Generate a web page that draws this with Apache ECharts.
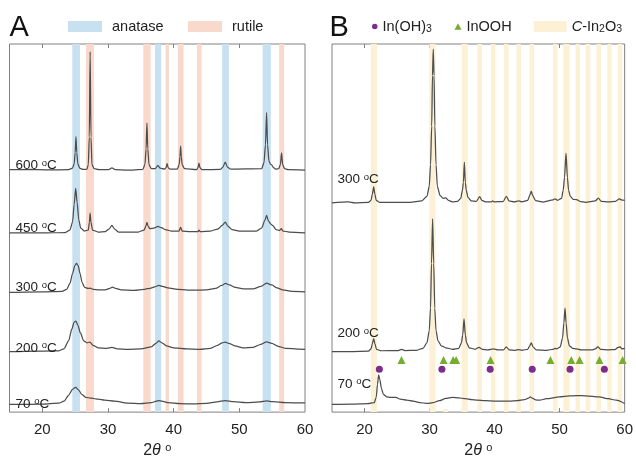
<!DOCTYPE html>
<html><head><meta charset="utf-8">
<script src="https://cdn.jsdelivr.net/npm/echarts@6/dist/echarts.min.js"></script>
<style>html,body{margin:0;padding:0;background:#fff}#c{width:636px;height:465px}</style>
</head><body><div id="c"></div>
<script>
// ---------- data (2θ in degrees, intensity in arbitrary stacked units) ----------
const tickValues = [20, 30, 40, 50];
const labelValues = [20, 30, 40, 50, 60];

const anataseBands = [[24.56, 25.73], [37.15, 38.1], [47.39, 48.41], [53.54, 54.8]];
const rutileBands = [[26.64, 27.86], [35.37, 36.49], [38.77, 39.28], [40.65, 41.51], [43.54, 44.25], [56.07, 56.83]];
const in2o3Bands = [[20.97, 21.9], [29.95, 30.92], [34.93, 35.87], [37.37, 38.05], [39.43, 40.1], [41.46, 42.15],
  [43.37, 44.05], [45.36, 46.05], [49.0, 49.66], [50.57, 51.52], [52.45, 53.14], [53.98, 54.7], [55.66, 56.37],
  [57.35, 58.0], [58.92, 59.63]];
const in2o3Stub = [[32.1, 32.85]];

const a600 = [[15,245],[18,245.2],[21,244.8],[24,245],[24.6,246.5],[24.85,251],[25.0,262],[25.12,278.3],[25.25,262],[25.4,251],[25.7,246.5],[26.2,245.2],[26.8,245.5],[27.0,250],[27.15,278],[27.28,364.3],[27.41,278],[27.56,250],[27.9,246],[28.6,245],[30.1,245],[30.6,246.8],[31.1,245],[33,244.6],[35.3,245.2],[35.62,250],[35.8,266],[35.93,292],[36.06,266],[36.24,250],[36.6,246],[37.2,246],[37.6,249.3],[37.95,246.5],[38.6,245.5],[38.85,247],[39.0,251],[39.15,247],[39.45,245.5],[40.55,245.5],[40.83,250],[40.96,258],[41.06,268.7],[41.16,258],[41.3,250],[41.65,246],[43.5,245],[43.7,247],[43.85,251.7],[44.0,247],[44.3,245],[47.1,245.2],[47.5,247.5],[47.85,252.7],[48.2,247.5],[48.7,245.5],[53.4,246],[53.75,252],[53.98,270],[54.15,302.7],[54.3,270],[54.5,254],[54.75,250.5],[54.9,250],[55.2,247],[55.6,245.5],[56.0,246],[56.25,250],[56.43,262],[56.6,250],[56.9,246],[57.4,245],[60,244.5]];
const a450 = [[15,181],[20,181],[23.5,181.5],[24.2,184],[24.6,192],[24.85,210],[25.08,226],[25.3,212],[25.55,194],[25.85,186],[26.4,183],[27.0,184],[27.17,192],[27.28,201],[27.4,192],[27.65,184],[28.5,182],[29.6,182.5],[30.15,185],[30.6,188.7],[31.0,185],[31.6,182],[34.6,182],[35.5,184],[35.78,188],[35.93,191.7],[36.08,188],[36.4,185.5],[37.0,186],[37.6,187.7],[38.1,186.5],[38.7,184.5],[39.6,183],[40.8,183],[41.06,186.7],[41.3,183],[42.5,182.5],[43.7,182.5],[43.85,183.8],[44.05,182.5],[45.6,183],[46.7,185],[47.45,189],[47.85,192],[48.25,188],[48.9,184.5],[50,183],[52.6,183],[53.4,186],[53.9,194],[54.15,198.7],[54.45,193],[54.8,190],[55.1,188.5],[55.6,184.5],[56.1,183.5],[56.4,185.3],[56.65,183],[57.6,182],[60,181]];
const a300 = [[15,121],[20,121.5],[23,122],[23.7,124],[24.2,130],[24.6,140],[24.95,148],[25.2,150.3],[25.45,148],[25.75,140],[26.05,131],[26.45,126],[26.95,125],[27.3,125.3],[27.75,124],[28.6,123.5],[29.6,123.5],[30.25,125],[30.7,126.3],[31.15,125],[32,123.5],[34,123],[35.5,124],[35.93,124.7],[36.4,125],[37.1,126.5],[37.7,128],[38.3,127],[39.1,125.5],[40.6,124],[43,123.2],[45,123.5],[46.4,125],[47.3,128],[47.9,130],[48.5,128.5],[49.4,126],[50.6,124.5],[52.1,124.5],[53.3,127],[54.15,130.3],[54.95,128.5],[55.75,125.5],[56.6,123.5],[58,122],[60,121.5]];
const a200 = [[15,61],[20,61.5],[22.5,62],[23.3,64],[24.0,72],[24.5,84],[24.85,91],[25.1,92],[25.4,88],[25.8,80],[26.3,72],[26.8,70],[27.25,70.7],[27.7,67.5],[28.5,65],[29.8,64.5],[30.6,65.3],[31.4,64],[33,63.5],[35,64],[36.6,66],[37.3,69.5],[37.75,72],[38.2,70],[38.9,67],[40,65],[42,64],[44,63.5],[45.6,64.5],[46.7,67.5],[47.4,70],[47.85,70.7],[48.4,69.5],[49.3,67],[50.6,65],[52.1,65.5],[53.3,68.5],[54.15,71],[54.95,69.5],[55.9,66.5],[57,64.5],[60,63.3]];
const a70 = [[15,7.7],[20,8],[22.5,9],[23.3,11],[24.0,17],[24.6,23],[25.08,25],[25.5,22.5],[26.0,18],[26.6,15],[27.5,14],[28.5,13],[29.5,12],[31,11],[33,9],[35,8.5],[36.6,9.5],[37.35,11],[37.75,11.7],[38.2,11],[39.1,9.5],[41,8.5],[43,8.3],[45,8.7],[46.6,10.3],[47.85,11.7],[49.1,10.5],[51,9.5],[53.1,10.3],[54.15,11.3],[55.1,10.5],[57,9.5],[60,9.3]];

const b300 = [[15,211.5],[17.5,212.5],[18.5,211.5],[20.6,212],[21.0,214],[21.2,220],[21.41,227.7],[21.6,220],[21.8,214],[22.3,212],[27,212],[28.8,213.5],[29.6,218],[29.95,228],[30.15,250],[30.33,289],[30.45,340],[30.57,366.7],[30.69,340],[30.82,289],[31.0,250],[31.2,228],[31.6,219],[32.1,216],[32.5,216.5],[32.9,214],[33.5,212.5],[34.3,213],[34.8,216],[35.05,224],[35.2,232],[35.35,252.7],[35.5,232],[35.65,224],[35.9,217],[36.4,213.5],[37.2,213],[37.7,217.7],[38.05,214],[38.6,212.5],[39.5,212.5],[39.7,213.5],[39.9,212.5],[41.3,212.8],[41.82,218],[42.2,213.5],[43.0,212.5],[43.75,213.5],[44.2,212.5],[45.1,214],[45.4,219],[45.64,223.3],[45.85,219],[46.3,213.8],[47.5,212.3],[49.0,214.5],[49.3,215.5],[49.7,214],[50.3,216],[50.55,224],[50.75,237],[50.98,261.7],[51.2,237],[51.38,224],[51.65,218],[52.1,215],[52.6,214.7],[53.2,212.8],[54,212],[55.5,213.5],[55.96,216.2],[56.4,213],[57.5,212.5],[58.6,213],[59.17,215.5],[59.5,214.5],[60,214]];
const b200 = [[15,61],[18,61.2],[20.6,61.5],[21.0,64],[21.2,69],[21.41,74.3],[21.6,69],[21.85,63.5],[22.5,62],[25.2,62.2],[25.7,63.5],[26.2,62.2],[28,62.5],[29.0,64.5],[29.6,70],[29.95,82],[30.15,105],[30.3,150],[30.47,195.3],[30.64,150],[30.8,105],[31.0,82],[31.3,72],[31.8,67],[32.5,65],[33.5,63.5],[34.5,64.5],[34.9,70],[35.1,78],[35.3,94.3],[35.5,78],[35.7,70],[36.1,65],[37.0,63.5],[37.6,65.5],[38.1,63.5],[39,62.8],[39.8,63.8],[40.5,62.8],[41.4,63],[41.8,66],[42.2,63],[43.2,62.5],[43.7,63.2],[44.2,62.5],[45.1,63.5],[45.4,67],[45.64,70],[45.9,66],[46.4,63],[48,62.5],[49.0,63.5],[49.3,64.3],[49.6,64],[50.1,66],[50.45,75],[50.65,90],[50.83,105],[51.0,90],[51.2,75],[51.5,67],[52.0,64.5],[52.6,63.8],[53.3,62.8],[55,62.8],[55.5,64],[55.9,66],[56.3,63.5],[57.5,63],[58.5,63.2],[59.0,65.5],[59.3,66],[59.6,64],[60,64.5]];
const b70 = [[15,7.7],[18,8],[20.5,8.5],[21.5,9.5],[21.8,15],[22.0,28],[22.17,37.7],[22.35,33],[22.6,24],[22.9,18],[23.4,15.5],[24.0,15],[24.8,15],[25.5,13],[26.5,12],[27.5,11],[28.5,9.7],[29.7,8.7],[30.5,9.5],[31.5,11.5],[32.5,13.8],[33.5,15],[34.5,14.5],[35.5,13.5],[36.5,12.5],[37.3,12],[38.5,11.5],[40,11.2],[42.3,11],[43.5,11.5],[44.6,12.5],[45.2,14],[45.5,15.3],[45.8,14],[46.3,12.3],[46.9,12],[48,13.5],[50,15.3],[51.5,16.3],[52.6,16.7],[54,16.5],[56.1,15.3],[57.5,13.5],[58.7,12],[60,8.7]];

const inOH3Peaks = [22.28, 31.9, 39.32, 45.79, 51.6, 56.88];
const inOOHPeaks = [25.69, 32.15, 33.63, 34.09, 39.38, 48.59, 51.8, 53.07, 56.12, 59.69];
const inOH3Row = 43.3;
const inOOHRow = 52.7;

const labelsA = [['600', 250], ['450', 187.3], ['300', 128], ['200', 67.3], ['70', 11.5]];
const labelsB = [['300', 236], ['200', 82], ['70', 31.3]];

// ---------- chart ----------
const FONT = 'Liberation Sans, Arial, sans-serif';
const TRACE = '#4d4d4d';
const BLUE = '#c8e1f1', PINK = '#f8d9cc', YEL = '#fcf0d5';
const chart = echarts.init(document.getElementById('c'), null, {renderer: 'canvas'});

function xAxisPair(g) {
  return [{
    gridIndex: g, type: 'value', min: 15, max: 60, position: 'bottom',
    axisLine: {show: false}, splitLine: {show: false},
    axisTick: {show: true, inside: true, length: 4, customValues: tickValues, lineStyle: {color: '#808080'}},
    axisLabel: {customValues: labelValues, fontSize: 15, color: '#222', margin: 10, fontFamily: FONT},
    name: '2{t|θ} {s|o}', nameLocation: 'middle', nameGap: 28,
    nameTextStyle: {fontSize: 16, color: '#222', fontFamily: FONT, lineHeight: 18,
      rich: {t: {fontSize: 16, fontStyle: 'italic', fontFamily: FONT, color: '#222', lineHeight: 18},
             s: {fontSize: 11, verticalAlign: 'top', lineHeight: 11, fontFamily: FONT, color: '#222'}}}
  }, {
    gridIndex: g, type: 'value', min: 15, max: 60, position: 'top',
    axisLine: {show: false}, splitLine: {show: false}, axisLabel: {show: false},
    axisTick: {show: true, inside: true, length: 4, customValues: tickValues, lineStyle: {color: '#808080'}}
  }];
}

function bandSeries(name, bands, color, xi, yi, yRange) {
  return {
    name, type: 'line', xAxisIndex: xi, yAxisIndex: yi, data: [], z: 1,
    itemStyle: {color}, lineStyle: {color},
    markArea: {silent: true, itemStyle: {color, opacity: 1},
      data: bands.map(b => yRange ? [{xAxis: b[0], yAxis: yRange[0]}, {xAxis: b[1], yAxis: yRange[1]}]
                                   : [{xAxis: b[0]}, {xAxis: b[1]}])}
  };
}
function trace(data, xi, yi) {
  return {type: 'line', xAxisIndex: xi, yAxisIndex: yi, data, showSymbol: false, symbol: 'none',
    smooth: 0.25, smoothMonotone: 'x', z: 3, silent: true,
    lineStyle: {color: TRACE, width: 1.25}};
}

const richSup = {s: {fontSize: 9.5, verticalAlign: 'top', lineHeight: 9, fontFamily: FONT, fill: '#222', color: '#222'}};
const sub = {fontSize: 10.5, verticalAlign: 'bottom', lineHeight: 11, fontFamily: FONT, color: '#222'};

function legend(name, left, icon, w, h, extra) {
  return Object.assign({
    data: [{name, icon}], left, top: 18.5, padding: 0, itemWidth: w, itemHeight: h, selectedMode: false,
    textStyle: {fontSize: 14.5, color: '#222', fontFamily: FONT, lineHeight: 16,
      rich: {sub: sub, i: {fontSize: 14.5, fontStyle: 'italic', fontFamily: FONT, color: '#222', lineHeight: 16}}}
  }, extra || {});
}

const series = [
  bandSeries('anatase', anataseBands, BLUE, 0, 0),
  bandSeries('rutile', rutileBands, PINK, 0, 0),
  trace(a600, 0, 0), trace(a450, 0, 0), trace(a300, 0, 0), trace(a200, 0, 0), trace(a70, 0, 0),
  bandSeries('C-In2O3', in2o3Bands, YEL, 2, 1),
  bandSeries('stub', in2o3Stub, YEL, 2, 1, [0, 3]),
  trace(b300, 2, 1), trace(b200, 2, 1), trace(b70, 2, 1),
  {name: 'In(OH)3', type: 'scatter', xAxisIndex: 2, yAxisIndex: 1, symbol: 'circle', symbolSize: 7, z: 4,
   itemStyle: {color: '#7b2c8e', opacity: 1}, data: inOH3Peaks.map(x => [x, inOH3Row])},
  {name: 'InOOH', type: 'scatter', xAxisIndex: 2, yAxisIndex: 1, symbol: 'triangle', symbolSize: 8, z: 4,
   itemStyle: {color: '#74ad30', opacity: 1}, data: inOOHPeaks.map(x => [x, inOOHRow])}
];

const graphics = [];
function tempLabel(txt, gridIdx, yVal) {
  const x0 = gridIdx === 0 ? 15.5 : 337.5;
  const py = 416 - yVal;
  graphics.push({type: 'text', left: x0, top: py - 8, silent: true, z: 100, zlevel: 1,
    style: {text: txt + ' {s|o}C', fontSize: 13.5, fontFamily: FONT, fill: '#222', lineHeight: 15, rich: richSup}});
}
labelsA.forEach(l => tempLabel(l[0], 0, l[1]));
labelsB.forEach(l => tempLabel(l[0], 1, l[1]));
graphics.push({type: 'text', left: 9.5, top: 13, z: 100, style: {text: 'A', fontSize: 29, fontFamily: FONT, fill: '#111'}});
graphics.push({type: 'text', left: 329.5, top: 13, z: 100, style: {text: 'B', fontSize: 29, fontFamily: FONT, fill: '#111'}});

const option = {
  animation: false,
  backgroundColor: '#fff',
  grid: [
    {left: 9.5, top: 44, width: 295.5, height: 372, show: true, borderColor: '#808080', borderWidth: 1, backgroundColor: 'transparent'},
    {left: 332, top: 44, width: 294.7, height: 372, show: true, borderColor: '#808080', borderWidth: 1, backgroundColor: 'transparent'}
  ],
  xAxis: [...xAxisPair(0), ...xAxisPair(1)],
  yAxis: [
    {gridIndex: 0, type: 'value', min: 0, max: 372, show: false},
    {gridIndex: 1, type: 'value', min: 0, max: 372, show: false}
  ],
  legend: [
    legend('anatase', 68, 'rect', 34, 11, {textStyle: {fontSize: 14.5, color: '#222', fontFamily: FONT, lineHeight: 16, padding: [0, 0, 0, 5]}}),
    legend('rutile', 188, 'rect', 34, 11, {textStyle: {fontSize: 14.5, color: '#222', fontFamily: FONT, lineHeight: 16, padding: [0, 0, 0, 5]}}),
    legend('In(OH)3', 372, 'circle', 5.5, 5.5, {formatter: () => 'In(OH){sub|3}'}),
    legend('InOOH', 454.5, 'triangle', 7, 6.5),
    legend('C-In2O3', 533.7, 'rect', 33, 11, {formatter: () => '{i|C}-In{sub|2}O{sub|3}'})
  ],
  graphic: graphics,
  series
};
chart.setOption(option);
</script></body></html>
